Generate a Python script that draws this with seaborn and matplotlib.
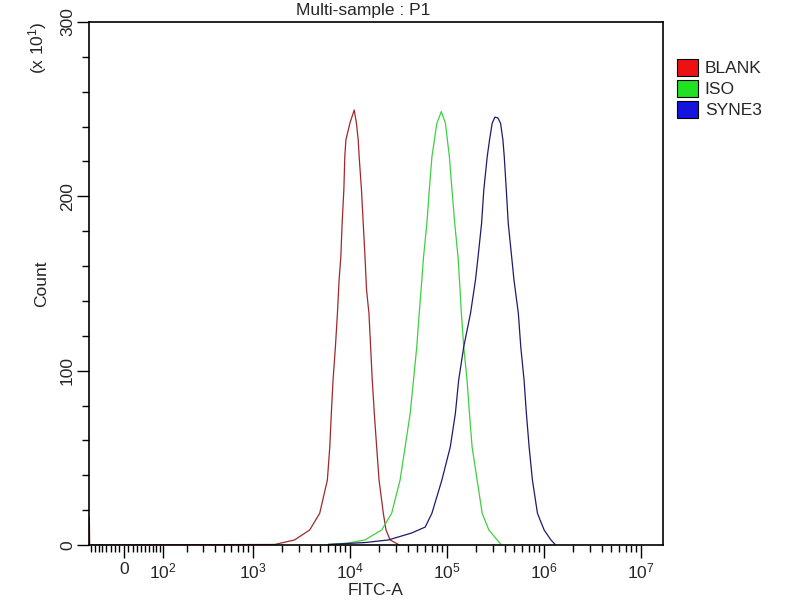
import pandas as pd
import seaborn as sns
import matplotlib.pyplot as plt
from matplotlib.patches import Patch

# FITC-A intensity values and counts (in units of 10^1)
blank_fitc = [-86, -85, 1690, 2700, 3870, 4910, 5890, 6240, 6470, 6740,
              7130, 7480, 7780, 8110, 8360, 8710, 8910, 9140, 10050, 11140,
              11750, 12250, 12530, 13240, 13800, 14390, 14930, 15810, 16440, 17100,
              17950, 18970, 20090, 22230, 23710, 26120, 31840]
blank_count = [16, 0, 0.3, 2.9, 8.6, 18.2, 37.3, 56.4, 75.5, 94.6,
               113.7, 132.9, 152, 165.4, 184.5, 203.6, 222.7, 232.3, 241.9, 249.5,
               241.9, 232.3, 222.7, 203.6, 184.5, 165.4, 146.3, 132.9, 113.7, 94.6,
               75.5, 56.4, 37.3, 18.2, 8.6, 2.9, 0.3]

iso_fitc = [5980, 9640, 14390, 21380, 27100, 33110, 37330, 42070, 45500, 49200,
            52120, 55460, 57810, 62520, 66220, 70470, 79250, 88100, 97050, 106700,
            113500, 121100, 130900, 135500, 141900, 150000, 162200, 171800, 182800, 206100,
            232300, 272300, 331900, 363100]
iso_count = [0.3, 1.1, 2.9, 8.6, 18.2, 37.3, 56.4, 75.5, 94.6, 113.7,
             132.9, 152, 165.4, 184.5, 203.6, 222.7, 241.9, 248.6, 241.9, 222.7,
             203.6, 184.5, 165.4, 152, 132.9, 113.7, 94.6, 75.5, 56.4, 37.3,
             18.2, 8.6, 2.9, 0.3]

syne3_fitc = [5990, 9640, 14390, 25060, 43650, 60120, 70470, 89330, 109100, 123000,
              133000, 150000, 176200, 198200, 210900, 229100, 241500, 261800, 276700, 294400,
              314100, 337300, 359700, 380200, 392600, 412100, 431500, 467700, 494300, 548300,
              580800, 628100, 663700, 707900, 765600, 863000, 1012000, 1189000, 1315000]
syne3_count = [0.3, 0.9, 1.4, 2.9, 6.9, 10.3, 18.2, 37.3, 56.4, 75.5,
               94.6, 113.7, 132.9, 152, 165.4, 184.5, 203.6, 222.7, 232.3, 241.9,
               245.4, 245, 241.9, 232.3, 222.7, 203.6, 184.5, 165.4, 152, 132.9,
               113.7, 94.6, 75.5, 56.4, 37.3, 18.2, 8.6, 2.9, 0.3]

samples = ["BLANK", "ISO", "SYNE3"]
line_colors = {"BLANK": "#a0282c", "ISO": "#3fd03f", "SYNE3": "#1c1c6c"}
legend_colors = ["#ee1111", "#22e022", "#1414dd"]

x_major = [0, 100, 1000, 10000, 100000, 1000000, 10000000]
x_labels = ["0", "$10^2$", "$10^3$", "$10^4$", "$10^5$", "$10^6$", "$10^7$"]


def build_frame():
    rows = []
    for name, xs, ys in [("BLANK", blank_fitc, blank_count),
                         ("ISO", iso_fitc, iso_count),
                         ("SYNE3", syne3_fitc, syne3_count)]:
        for x, y in zip(xs, ys):
            rows.append({"sample": name, "fitc": x, "count": y})
    return pd.DataFrame(rows)


def minor_ticks():
    ticks = [v for v in range(-80, 100, 10) if v != 0]
    for dec in [100, 1000, 10000, 100000, 1000000]:
        ticks += [dec * k for k in range(2, 10)]
    return ticks


sns.set_style("ticks")
plt.rcParams["font.family"] = ["Liberation Sans", "DejaVu Sans"]
plt.rcParams["mathtext.default"] = "regular"

df = build_frame()

fig = plt.figure(figsize=(8, 6), dpi=100)
ax = fig.add_axes([89 / 800, 55 / 600, 574 / 800, 523 / 600])

sns.lineplot(data=df, x="fitc", y="count", hue="sample", palette=line_colors,
             estimator=None, sort=False, legend=False, linewidth=0.9, ax=ax)

ax.set_xscale("asinh", linear_width=94)
ax.set_xlim(-87, 1.7e7)
ax.set_ylim(0, 300)

ax.set_xticks(x_major, x_labels, fontsize=12.5)
ax.set_xticks(minor_ticks(), minor=True)
ax.set_yticks([0, 100, 200, 300], ["0", "100", "200", "300"], fontsize=12.5)
ax.set_yticks([v for v in range(20, 300, 20) if v % 100 != 0], minor=True)
for lab in ax.get_yticklabels():
    lab.set_rotation(90)
    lab.set_va("center")

ax.tick_params(which="major", length=9, width=1, color="black", pad=3)
ax.tick_params(which="minor", length=5, width=1, color="black")
ax.tick_params(axis="y", which="major", pad=1)
for side in ["top", "right", "left", "bottom"]:
    ax.spines[side].set_visible(True)
    ax.spines[side].set_color("black")
    ax.spines[side].set_linewidth(1.2)

ax.set_xlabel("FITC-A", fontsize=12.5, labelpad=1)
ax.set_ylabel("Count", fontsize=12.5, labelpad=8)
ax.grid(False)

fig.text(363 / 800, 1 - 3 / 600, "Multi-sample : P1", ha="center", va="top", fontsize=12.5)
fig.text(38 / 800, 1 - 48 / 600, "(x 10$^1$)", ha="center", va="center",
         rotation=90, fontsize=12.5)

handles = [Patch(facecolor=c, edgecolor="black", linewidth=0.8) for c in legend_colors]
fig.legend(handles, samples, loc="upper left", bbox_to_anchor=(677 / 800, 1 - 59 / 600),
           frameon=False, fontsize=12.5, handlelength=1.2, handleheight=1.15,
           handletextpad=0.4, labelspacing=0.2, borderaxespad=0, borderpad=0)

fig.savefig("out.png", dpi=100)
